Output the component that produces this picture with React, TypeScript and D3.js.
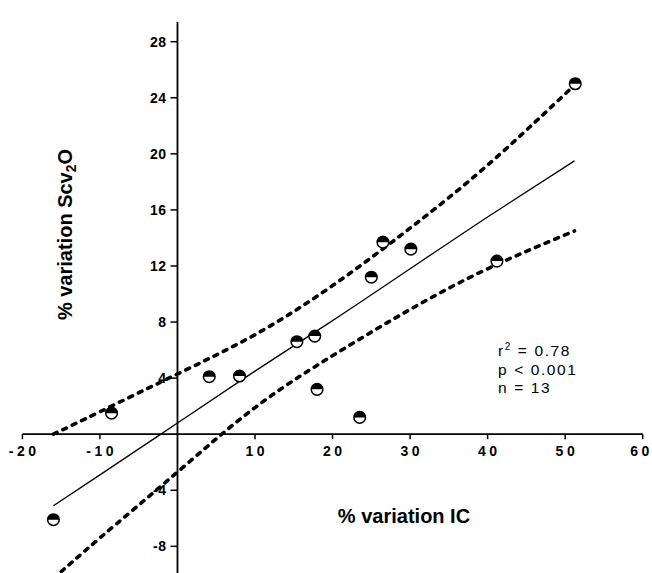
import React from 'react';
import * as d3 from 'd3';

// measured points (% variation IC, % variation ScvO2)
const icVar = [-16.0, -8.5, 4.1, 8.0, 15.4, 17.7, 18.0, 23.5, 25.0, 26.5, 30.1, 41.2, 51.3];
const scvVar = [-6.1, 1.5, 4.1, 4.15, 6.6, 7.0, 3.2, 1.2, 11.2, 13.7, 13.2, 12.35, 25.0];

// regression line and 95% band
const lineX = [-16, -10, 0, 10, 20, 30, 40, 51.2];
const fitY = [-5.1, -2.9, 0.8, 4.5, 8.1, 11.8, 15.5, 19.5];
const upperY = [0.0, 1.6, 4.3, 7.1, 10.6, 14.7, 19.2, 24.9];
const lowerY = [-10.3, -7.4, -2.7, 1.9, 5.6, 8.9, 11.8, 14.5];

const xTicks = [-20, -10, 10, 20, 30, 40, 50, 60];
const yTicks = [-8, -4, 4, 8, 12, 16, 20, 24, 28];

const statLines = ['= 0.78', 'p < 0.001', 'n = 13'];

const W = 652;
const H = 573;
const font = '"Liberation Sans", Arial, Helvetica, sans-serif';

export default function App() {
  const x = d3.scaleLinear().domain([-20, 60]).range([22.4, 642.7]);
  const y = d3.scaleLinear().domain([0, 28]).range([434.2, 41.7]);

  const line = d3.line<[number, number]>()
    .x(d => x(d[0]))
    .y(d => y(d[1]))
    .curve(d3.curveNatural);

  const fit = line(lineX.map((v, i) => [v, fitY[i]]) as [number, number][]) || '';
  const upper = line(lineX.map((v, i) => [v, upperY[i]]) as [number, number][]) || '';
  const lower = line(lineX.map((v, i) => [v, lowerY[i]]) as [number, number][]) || '';

  const r = 5.8;
  const ls = 3.5;

  return (
    <svg width={W} height={H} style={{ position: 'absolute', left: 0, top: 0, background: '#fff' }}>
      {/* axes */}
      <line x1={x(-20)} x2={x(60)} y1={y(0)} y2={y(0)} stroke="#000" strokeWidth={1.8} />
      <line x1={x(0)} x2={x(0)} y1={y(29.4)} y2={H} stroke="#000" strokeWidth={1.8} />

      {xTicks.map((t, i) => (
        <g key={'x' + t}>
          <line x1={x(t)} x2={x(t)} y1={y(0)} y2={y(0) + 5} stroke="#000" strokeWidth={1.5} />
          <text x={x(t) + ls / 2 - (i === xTicks.length - 1 ? 3 : 0)} y={y(0) + 22} textAnchor="middle"
            fontFamily={font} fontWeight="bold" fontSize={14} letterSpacing={ls}>{t}</text>
        </g>
      ))}
      {yTicks.map(t => (
        <g key={'y' + t}>
          <line x1={x(0) - 7} x2={x(0)} y1={y(t)} y2={y(t)} stroke="#000" strokeWidth={1.5} />
          <text x={x(0) - 11} y={y(t) + 5} textAnchor="end" fontFamily={font} fontWeight="bold"
            fontSize={14} letterSpacing={0.5}>{t}</text>
        </g>
      ))}

      {/* titles */}
      <text x={404} y={523} textAnchor="middle" fontFamily={font} fontWeight="bold" fontSize={20}>
        % variation IC
      </text>
      <text transform="translate(72,234.5) rotate(-90)" textAnchor="middle" fontFamily={font}
        fontWeight="bold" fontSize={20}>
        % variation Scv<tspan fontSize={14} dy={4}>2</tspan><tspan dy={-4}>O</tspan>
      </text>

      {/* regression + band */}
      <path d={upper} fill="none" stroke="#000" strokeWidth={3.6} strokeDasharray="4 6.5" strokeLinecap="round" />
      <path d={lower} fill="none" stroke="#000" strokeWidth={3.6} strokeDasharray="4 6.5" strokeLinecap="round" />
      <path d={fit} fill="none" stroke="#000" strokeWidth={1.3} />

      {/* points: half filled circles */}
      {icVar.map((v, i) => (
        <g key={'p' + i} transform={`translate(${x(v)},${y(scvVar[i])})`}>
          <circle r={r} fill="#fff" stroke="#000" strokeWidth={1.5} />
          <path d={`M${-r},0 A${r},${r} 0 0 1 ${r},0 Z`} fill="#000" />
        </g>
      ))}

      {/* stats */}
      <g fontFamily={font} fontSize={15.5} letterSpacing={1.6}>
        <text x={498} y={356}>
          r<tspan fontSize={10} dy={-6}>2</tspan><tspan dy={6}> {statLines[0]}</tspan>
        </text>
        <text x={498} y={374.5}>{statLines[1]}</text>
        <text x={498} y={393}>{statLines[2]}</text>
      </g>
    </svg>
  );
}
